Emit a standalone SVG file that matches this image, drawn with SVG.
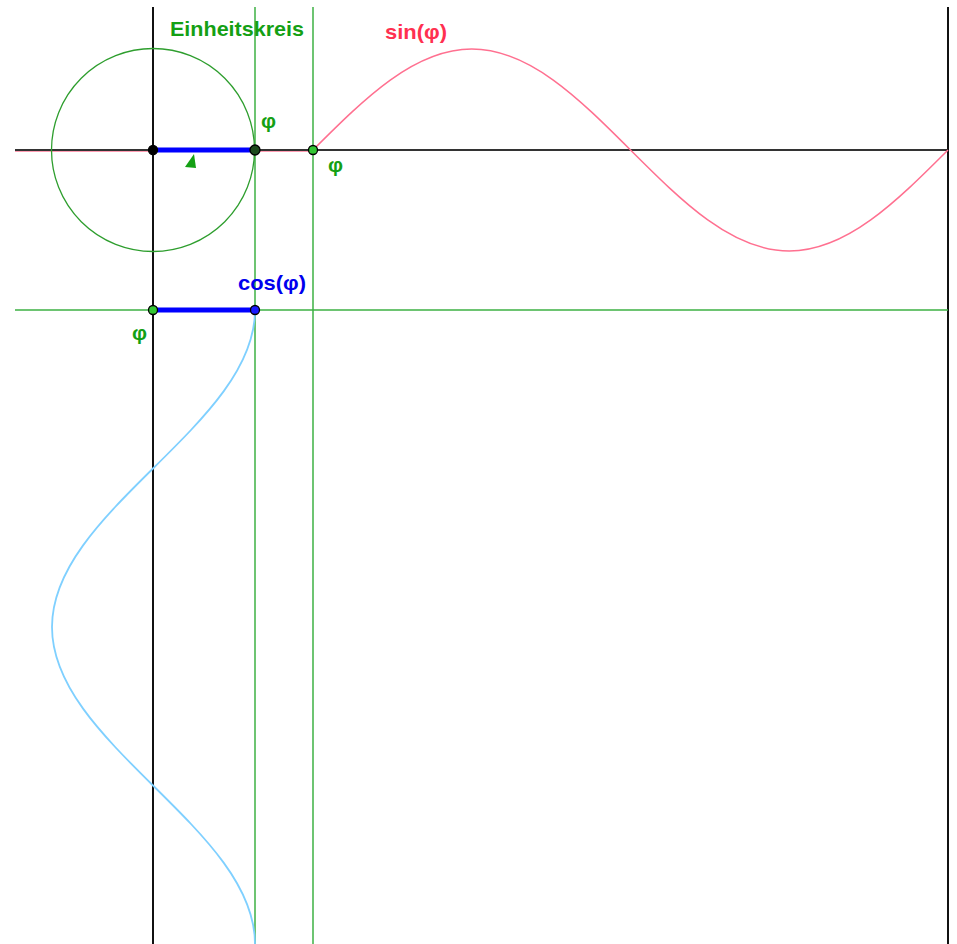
<svg xmlns="http://www.w3.org/2000/svg" width="957" height="944" viewBox="0 0 957 944">
<style>
.axis{stroke:#111;stroke-width:2;fill:none}
.haxis{stroke:#333;stroke-width:2;fill:none}
.gline{stroke:#3cb043;stroke-width:1.5;fill:none}
.seg{stroke:#0000ff;stroke-width:5;stroke-linecap:butt}
.pt{stroke:#000;stroke-width:1.3}
.lbl{font-family:"Liberation Sans",Arial,sans-serif;font-weight:bold;font-size:21px}
.green{fill:#14a014}
</style>
<rect width="957" height="944" fill="#fff"/>
<g id="axes">
<line x1="15" y1="151.2" x2="313" y2="151.2" stroke="#ff7090" stroke-width="1"/>
<line class="haxis" x1="15" y1="150" x2="948" y2="150"/>
<line class="axis" x1="153" y1="7" x2="153" y2="944"/>
<line class="axis" x1="948" y1="7" x2="948" y2="944"/>
</g>
<g id="guides">
<line class="gline" x1="255" y1="7" x2="255" y2="944"/>
<line class="gline" x1="313" y1="7" x2="313" y2="944"/>
<line class="gline" x1="15" y1="310" x2="948" y2="310"/>
</g>
<g id="unit-circle">
<circle cx="153" cy="150" r="101.5" fill="none" stroke="#2e9e2e" stroke-width="1.3"/>
<polygon points="194,154 185,167 196,168" fill="#14a014"/>
</g>
<g id="connectors">
<path id="sine" d="M313,150 C364.77,98.26 414.29,49 471.75,49 C529.21,49 578.73,98.26 630.5,150 C682.27,201.74 731.79,251 789.25,251 C846.71,251 896.23,201.74 948,150" fill="none" stroke="#ff7090" stroke-width="1.5"/>
<path id="cosine" d="M255,310 C255,367.4 205.3,416.8 153,468.5 C100.7,520.2 52,569.6 52,627 C52,684.4 100.7,733.8 153,785.5 C205.3,837.2 255,886.6 255,944" fill="none" stroke="#7fd0ff" stroke-width="1.8"/>
<line class="seg" x1="153" y1="150" x2="255" y2="150"/>
<line class="seg" x1="153" y1="310" x2="255" y2="310"/>
</g>
<g id="points">
<circle class="pt" cx="153" cy="150" r="4.5" fill="#000"/>
<circle class="pt" cx="255" cy="150" r="5" fill="#1d4a1d"/>
<circle class="pt" cx="313" cy="150" r="4.5" fill="#33c633"/>
<circle class="pt" cx="153" cy="310" r="4.5" fill="#33c633"/>
<circle class="pt" cx="255" cy="310" r="4.5" fill="#1a1aff"/>
</g>
<g id="labels">
<text class="lbl green" x="170" y="36" textLength="134" lengthAdjust="spacingAndGlyphs">Einheitskreis</text>
<text class="lbl" x="385" y="39" fill="#ff3050" textLength="62" lengthAdjust="spacingAndGlyphs">sin(φ)</text>
<text class="lbl" x="238" y="290" fill="#0000ee" textLength="68" lengthAdjust="spacingAndGlyphs">cos(φ)</text>
<text class="lbl green" x="261" y="128">φ</text>
<text class="lbl green" x="328" y="172">φ</text>
<text class="lbl green" x="132" y="340">φ</text>
</g>
</svg>
